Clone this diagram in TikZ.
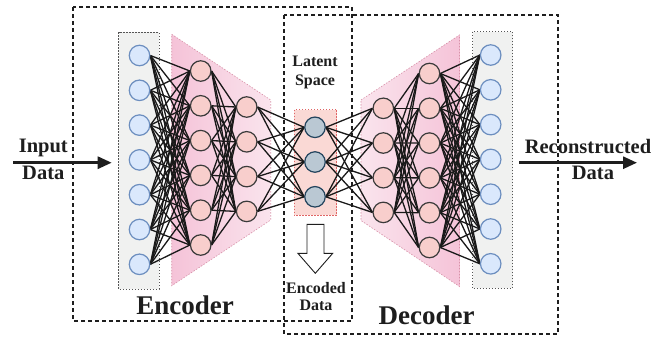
\documentclass[tikz,border=0pt]{standalone}
\usepackage{fontspec}
\setmainfont{Liberation Serif}
\usetikzlibrary{arrows.meta}
\pgfdeclarelayer{bg}
\pgfdeclarelayer{edges}
\pgfsetlayers{bg,edges,main}
\definecolor{inF}{HTML}{DAE8FC}
\definecolor{inS}{HTML}{6C8EBF}
\definecolor{hidF}{HTML}{F8CECC}
\definecolor{hidS}{HTML}{3A3A3A}
\definecolor{latF}{HTML}{BAC8D3}
\definecolor{latS}{HTML}{23445D}
\definecolor{grayF}{HTML}{F0F1F0}
\definecolor{grayS}{HTML}{555555}
\definecolor{latBoxF}{HTML}{FAD9D5}
\definecolor{latBoxS}{HTML}{E06666}
\definecolor{pinkD}{HTML}{F5C3D8}
\definecolor{pinkL}{HTML}{FAE4ED}
\definecolor{pinkS}{HTML}{D890A8}
\definecolor{txt}{HTML}{1E1E1E}
\begin{document}
\begin{tikzpicture}[x=1pt,y=-1pt,
  neuin/.style={circle,draw=inS,fill=inF,line width=1.2pt,minimum size=20.5pt,inner sep=0pt},
  neuhid/.style={circle,draw=hidS,fill=hidF,line width=1.2pt,minimum size=20.5pt,inner sep=0pt},
  neulat/.style={circle,draw=latS,fill=latF,line width=1.2pt,minimum size=20.5pt,inner sep=0pt},
  conn/.style={draw=black!90,line width=1.3pt},
  groupbox/.style={draw=txt,line width=1.2pt,dash pattern=on 4pt off 3pt},
  layerbox/.style={draw=grayS,fill=grayF,line width=0.9pt,dash pattern=on 1.5pt off 1.5pt},
  lbl/.style={text=txt,font=\bfseries,align=center,inner sep=0pt},
  bigarrow/.style={draw=txt,line width=2.8pt,-{Triangle[length=14pt,width=12pt]}}]
\useasboundingbox (0,0) rectangle (661,338);
\begin{pgfonlayer}{bg}
\fill[white] (0,0) rectangle (661,338);
% group boxes
\draw[groupbox] (73,7) rectangle (352,321);
\draw[groupbox] (284,15) rectangle (558,334);
% layer boxes
\draw[layerbox] (118.5,32.3) rectangle (159,289);
\draw[layerbox] (472.5,31.5) rectangle (512.5,288.3);
\shade[left color=pinkD,right color=pinkL] (171.7,34.3) -- (270.7,100) -- (270.7,220) -- (171.7,285.7) -- cycle;
\draw[pinkS,line width=0.6pt,dash pattern=on 1.5pt off 1.5pt] (171.7,34.3) -- (270.7,100) -- (270.7,220) -- (171.7,285.7) -- cycle;
\shade[left color=pinkL,right color=pinkD] (361,100) -- (459.5,35) -- (459.5,286.5) -- (361,220.5) -- cycle;
\draw[pinkS,line width=0.6pt,dash pattern=on 1.5pt off 1.5pt] (361,100) -- (459.5,35) -- (459.5,286.5) -- (361,220.5) -- cycle;
\draw[fill=latBoxF,draw=latBoxS,line width=0.7pt,dash pattern=on 1.5pt off 1.5pt] (294,109.5) rectangle (336.7,215.3);
\end{pgfonlayer}
% neurons
\foreach \k/\y in {1/55.5,2/90.3,3/125.1,4/159.9,5/194.7,6/229.5,7/264.3}
  \node[neuin] (i\k) at (139.5,\y) {};
\foreach \k/\y in {1/71,2/105.8,3/140.6,4/175.4,5/210.2,6/245}
  \node[neuhid] (a\k) at (200.7,\y) {};
\foreach \k/\y in {1/107,2/141.8,3/176.6,4/211.4}
  \node[neuhid] (b\k) at (246.7,\y) {};
\foreach \k/\y in {1/127.3,2/162,3/196.8}
  \node[neulat] (z\k) at (315,\y) {};
\foreach \k/\y in {1/108.3,2/143,3/177.7,4/212.4}
  \node[neuhid] (c\k) at (383.3,\y) {};
\foreach \k/\y in {1/73.5,2/108.3,3/143.1,4/177.9,5/212.7,6/247.5}
  \node[neuhid] (d\k) at (429.5,\y) {};
\foreach \k/\y in {1/55,2/89.8,3/124.6,4/159.4,5/194.2,6/229,7/263.8}
  \node[neuin] (o\k) at (490.7,\y) {};
% connections
\begin{pgfonlayer}{edges}
\foreach \p in {1,...,7} \foreach \q in {1,...,6} \draw[conn] (i\p.east) -- (a\q.west);
\foreach \p in {1,...,6} \foreach \q in {1,...,4} \draw[conn] (a\p.east) -- (b\q.west);
\foreach \p in {1,...,4} \foreach \q in {1,...,3} \draw[conn] (b\p.east) -- (z\q.west);
\foreach \p in {1,...,3} \foreach \q in {1,...,4} \draw[conn] (z\p.east) -- (c\q.west);
\foreach \p in {1,...,4} \foreach \q in {1,...,6} \draw[conn] (c\p.east) -- (d\q.west);
\foreach \p in {1,...,6} \foreach \q in {1,...,7} \draw[conn] (d\p.east) -- (o\q.west);
\end{pgfonlayer}
% hollow arrow
\draw[fill=white,draw=txt,line width=0.9pt,line join=miter]
  (307,224.3) -- (324,224.3) -- (324,253.3) -- (332.7,253.3) -- (315.3,273.3)
  -- (297.9,253.3) -- (307,253.3) -- cycle;
% texts
\node[lbl,font=\bfseries\fontsize{16}{20}\selectfont] (lat1) at (315,61.7) {Latent};
\node[lbl,font=\bfseries\fontsize{16}{20}\selectfont] (lat2) at (315,81.7) {Space};
\node[lbl,font=\bfseries\fontsize{16}{20}\selectfont] (enc1) at (316,287.7) {Encoded};
\node[lbl,font=\bfseries\fontsize{16}{20}\selectfont] (enc2) at (316,305.5) {Data};
\node[lbl,font=\bfseries\fontsize{27}{30}\selectfont] (encl) at (185,305) {Encoder};
\node[lbl,font=\bfseries\fontsize{27}{30}\selectfont] (decl) at (426.7,315) {Decoder};
\node[lbl,font=\bfseries\fontsize{20.5}{24}\selectfont] (in1) at (43.3,148) {Input};
\node[lbl,font=\bfseries\fontsize{20.5}{24}\selectfont] (in2) at (43.3,173.3) {Data};
\node[lbl,font=\bfseries\fontsize{20.5}{24}\selectfont] (out1) at (588,146.7) {Reconstructed};
\node[lbl,font=\bfseries\fontsize{20.5}{24}\selectfont] (out2) at (593,173.3) {Data};
% big arrows
\coordinate (inA) at (13,162.7);
\coordinate (inB) at (111.7,162.7);
\coordinate (outA) at (519,162.7);
\coordinate (outB) at (637,162.7);
\draw[bigarrow] (inA) -- (inB);
\draw[bigarrow] (outA) -- (outB);
\end{tikzpicture}
\end{document}
